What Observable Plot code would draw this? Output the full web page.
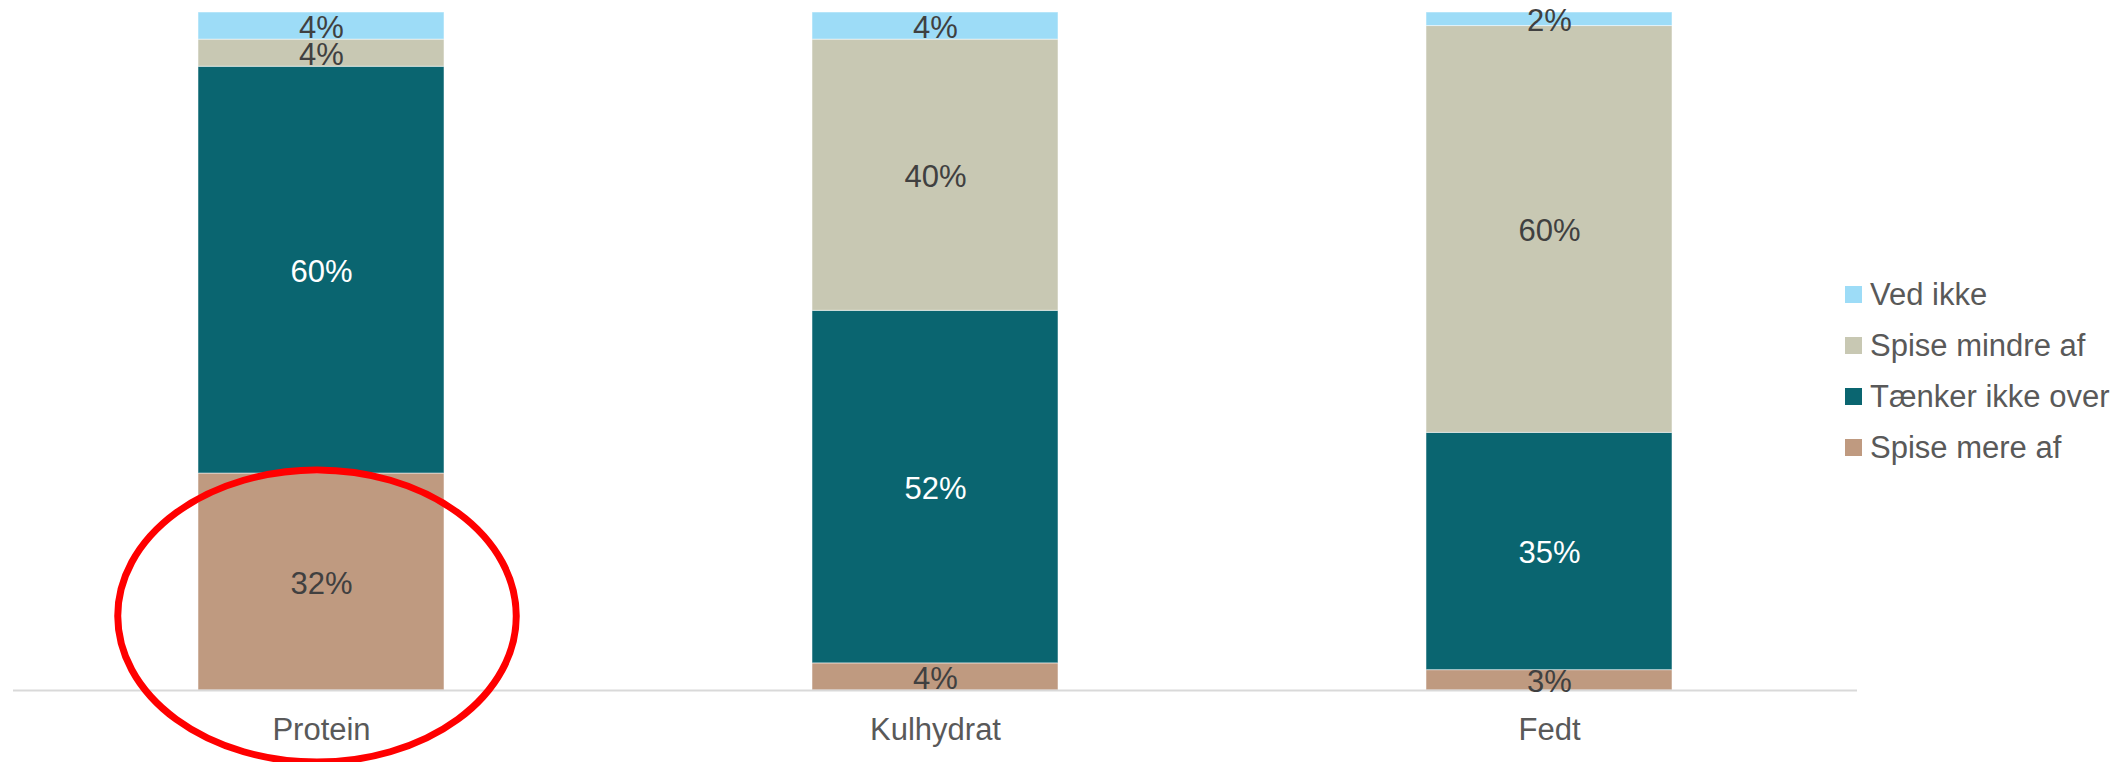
<!DOCTYPE html>
<html><head><meta charset="utf-8">
<script src="https://cdn.jsdelivr.net/npm/d3@7"></script>
<script src="https://cdn.jsdelivr.net/npm/@observablehq/plot@0.6"></script>
<style>
body{margin:0;background:#fff;font-family:"Liberation Sans",Arial,sans-serif;}
#wrap{position:relative;width:2126px;height:762px;overflow:hidden;}
#legend{position:absolute;left:1845px;top:269px;}
.row{display:flex;align-items:center;height:51px;}
.sw{width:17px;height:17px;margin-right:8px;}
.lt{font-size:31px;color:#595959;white-space:nowrap;}
</style></head><body><div id="wrap"></div>
<script>
const categories = ["Protein", "Kulhydrat", "Fedt"];
const series = ["Spise mere af", "Tænker ikke over", "Spise mindre af", "Ved ikke"];
const spiseMereAf = [32, 4, 3];
const taenkerIkkeOver = [60, 52, 35];
const spiseMindreAf = [4, 40, 60];
const vedIkke = [4, 4, 2];
const colors = ["#BF9A80", "#0A6570", "#C8C8B3", "#9DDCF7"];
const darkSeries = "Tænker ikke over";

const valuesBySeries = [spiseMereAf, taenkerIkkeOver, spiseMindreAf, vedIkke];
const data = [];
series.forEach((s, si) => categories.forEach((c, ci) => data.push({cat: c, series: s, value: valuesBySeries[si][ci]})));

const stackOpts = (extra) => Plot.stackY({x: "cat", y: "value", z: "series", order: series, ...extra});

const chart = Plot.plot({
  width: 2126,
  height: 762,
  marginLeft: 13,
  marginRight: 269,
  marginTop: 12,
  marginBottom: 72,
  style: {fontFamily: '"Liberation Sans", Arial, sans-serif', background: "#fff", overflow: "visible"},
  x: {domain: categories, paddingInner: 0.6, paddingOuter: 0.3, label: null},
  y: {domain: [0, 100], axis: null},
  color: {domain: series, range: colors},
  marks: [
    Plot.barY(data, stackOpts({fill: "series", stroke: "#fff", strokeOpacity: 0.5, strokeWidth: 1})),
    Plot.ruleY([0], {stroke: "#D9D9D9", strokeWidth: 2}),
    Plot.axisX({tickSize: 0, tickPadding: 27, fontSize: 31, color: "#595959", label: null}),
    Plot.text(data, stackOpts({text: d => d.series !== darkSeries ? d.value + "%" : "", fill: "#404040", fontSize: 31, dy: 2})),
    Plot.text(data, stackOpts({text: d => d.series === darkSeries ? d.value + "%" : "", fill: "#ffffff", fontSize: 31, dy: 2}))
  ]
});
document.getElementById("wrap").appendChild(chart);

// red ellipse annotation around the Protein bar's bottom segment
const xs = chart.scale("x"), ys = chart.scale("y");
const cx = xs.apply("Protein") + xs.bandwidth / 2 - 4;
const cy = ys.apply(0) - 74;
d3.select(chart).append("ellipse")
  .attr("cx", cx).attr("cy", cy)
  .attr("rx", xs.bandwidth * 0.81).attr("ry", 146)
  .attr("fill", "none").attr("stroke", "#FF0000").attr("stroke-width", 7);

// legend (top to bottom)
const legend = document.createElement("div");
legend.id = "legend";
series.slice().reverse().forEach(s => {
  const i = series.indexOf(s);
  const row = document.createElement("div");
  row.className = "row";
  row.innerHTML = `<div class="sw" style="background:${colors[i]}"></div><div class="lt">${s}</div>`;
  legend.appendChild(row);
});
document.getElementById("wrap").appendChild(legend);
</script>
</body></html>
